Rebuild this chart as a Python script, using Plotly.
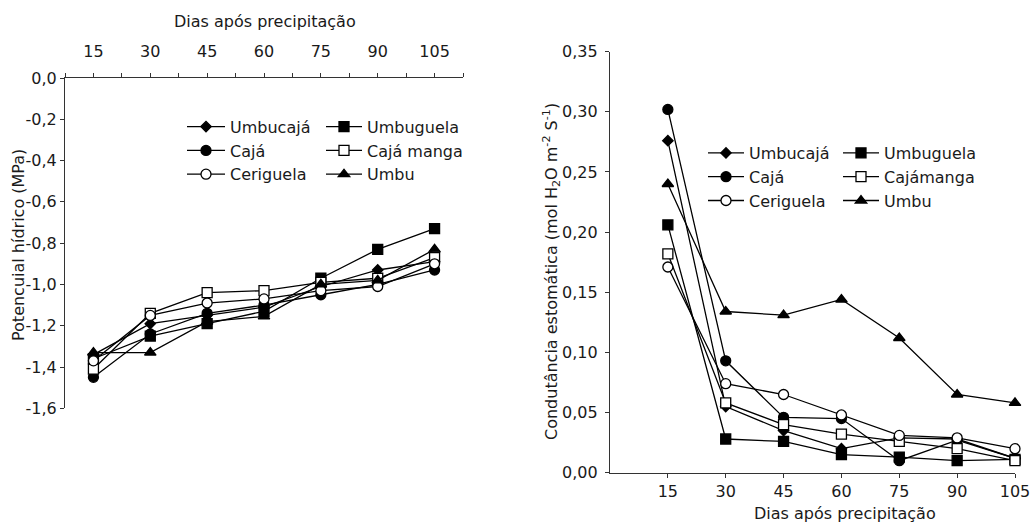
import plotly.graph_objects as go

# ---------------- data ----------------
days = [15, 30, 45, 60, 75, 90, 105]

# Left chart: Potencial hídrico (MPa)
pot_umbucaja = [-1.34, -1.19, -1.15, -1.11, -1.01, -0.93, -0.89]
pot_umbuguela = [-1.36, -1.25, -1.19, -1.13, -0.97, -0.83, -0.73]
pot_caja = [-1.45, -1.24, -1.14, -1.10, -1.05, -1.00, -0.93]
pot_cajamanga = [-1.41, -1.14, -1.04, -1.03, -0.99, -0.97, -0.87]
pot_ceriguela = [-1.37, -1.15, -1.09, -1.07, -1.03, -1.01, -0.90]
pot_umbu = [-1.33, -1.33, -1.18, -1.155, -1.00, -0.98, -0.83]

# Right chart: Condutância estomática (mol H2O m-2 s-1)
cond_umbucaja = [0.276, 0.055, 0.035, 0.020, 0.029, 0.028, 0.012]
cond_umbuguela = [0.206, 0.028, 0.026, 0.015, 0.013, 0.010, 0.011]
cond_caja = [0.302, 0.093, 0.046, 0.045, 0.010, 0.027, 0.012]
cond_cajamanga = [0.182, 0.058, 0.040, 0.032, 0.026, 0.020, 0.010]
cond_ceriguela = [0.171, 0.074, 0.065, 0.048, 0.031, 0.029, 0.020]
cond_umbu = [0.240, 0.134, 0.131, 0.144, 0.112, 0.065, 0.058]

left_names = ["Umbucajá", "Umbuguela", "Cajá", "Cajá manga", "Ceriguela", "Umbu"]
right_names = ["Umbucajá", "Umbuguela", "Cajá", "Cajámanga", "Ceriguela", "Umbu"]

# tick labels
left_xtick_vals = [15, 30, 45, 60, 75, 90, 105]
left_xtick_text = ["15", "30", "45", "60", "75", "90", "105"]
left_xminor_vals = [7.5, 22.5, 37.5, 52.5, 67.5, 82.5, 97.5, 112.5]
left_ytick_vals = [0, -0.2, -0.4, -0.6, -0.8, -1.0, -1.2, -1.4, -1.6]
left_ytick_text = ["0,0", "-0,2", "-0,4", "-0,6", "-0,8", "-1,0", "-1,2", "-1,4", "-1,6"]
right_xtick_vals = [15, 30, 45, 60, 75, 90, 105]
right_xtick_text = ["15", "30", "45", "60", "75", "90", "105"]
right_ytick_vals = [0, 0.05, 0.10, 0.15, 0.20, 0.25, 0.30, 0.35]
right_ytick_text = ["0,00", "0,05", "0,10", "0,15", "0,20", "0,25", "0,30", "0,35"]

# ---------------- styles ----------------
W, H = 1036, 529
FONT = "DejaVu Sans"
FS = 16
INK = "#1a1a1a"
AX = "#333333"

styles = [
    dict(symbol="diamond", size=8, color="black"),
    dict(symbol="square", size=10, color="black"),
    dict(symbol="circle", size=10, color="black"),
    dict(symbol="square", size=10, color="white"),
    dict(symbol="circle", size=10, color="white"),
    dict(symbol="triangle-up", size=10, color="black"),
]
left_legends = ["legend", "legend2", "legend", "legend2", "legend", "legend2"]
right_legends = ["legend3", "legend4", "legend3", "legend4", "legend3", "legend4"]

left_values = [pot_umbucaja, pot_umbuguela, pot_caja, pot_cajamanga, pot_ceriguela, pot_umbu]
right_values = [cond_umbucaja, cond_umbuguela, cond_caja, cond_cajamanga, cond_ceriguela, cond_umbu]

fig = go.Figure()

for name, vals, st, lg in zip(left_names, left_values, styles, left_legends):
    fig.add_trace(go.Scatter(
        x=days, y=vals, name=name, mode="lines+markers",
        xaxis="x", yaxis="y", legend=lg,
        line=dict(color="black", width=1.3),
        marker=dict(symbol=st["symbol"], size=st["size"], color=st["color"],
                    line=dict(color="black", width=1.3)),
        cliponaxis=False,
    ))

for name, vals, st, lg in zip(right_names, right_values, styles, right_legends):
    fig.add_trace(go.Scatter(
        x=days, y=vals, name=name, mode="lines+markers",
        xaxis="x2", yaxis="y2", legend=lg,
        line=dict(color="black", width=1.3),
        marker=dict(symbol=st["symbol"], size=st["size"], color=st["color"],
                    line=dict(color="black", width=1.3)),
        cliponaxis=False,
    ))


def px_x(p):
    return p / W


def px_y(p):
    return 1 - p / H


axis_common = dict(
    showline=True, linecolor=AX, linewidth=1.2, showgrid=False, zeroline=False,
    ticks="outside", ticklen=4, tickwidth=1.2, tickcolor=AX, automargin=False,
    tickfont=dict(family=FONT, size=FS, color=INK), tickmode="array",
)

legend_common = dict(
    xanchor="left", yanchor="middle", bgcolor="rgba(0,0,0,0)", borderwidth=0,
    font=dict(family=FONT, size=FS, color=INK), orientation="v", tracegroupgap=0,
)

fig.update_layout(
    width=W, height=H,
    margin=dict(l=0, r=0, t=0, b=0, pad=0, autoexpand=False),
    paper_bgcolor="white", plot_bgcolor="white",
    font=dict(family=FONT, size=FS, color=INK),
    xaxis=dict(axis_common, domain=[px_x(65), px_x(463)], anchor="y", side="top",
               range=[7.5, 112.5], tickvals=left_xtick_vals, ticktext=left_xtick_text,
               ticklabelstandoff=10,
               minor=dict(tickmode="array", tickvals=left_xminor_vals, ticks="outside",
                          ticklen=4, tickwidth=1.2, tickcolor=AX, showgrid=False)),
    yaxis=dict(axis_common, domain=[px_y(408.3), px_y(78)], anchor="x",
               range=[-1.6, 0], tickvals=left_ytick_vals, ticktext=left_ytick_text),
    xaxis2=dict(axis_common, domain=[px_x(610), px_x(1015)], anchor="y2",
                range=[0, 105], tickvals=right_xtick_vals, ticktext=right_xtick_text,
                ticklabelstandoff=0),
    yaxis2=dict(axis_common, domain=[px_y(472.7), px_y(51.7)], anchor="x2",
                range=[0, 0.35], tickvals=right_ytick_vals, ticktext=right_ytick_text,
                ticklabelstandoff=4),
    legend=dict(legend_common, x=px_x(182), y=px_y(150.7), itemwidth=38),
    legend2=dict(legend_common, x=px_x(321), y=px_y(150.7), itemwidth=36),
    legend3=dict(legend_common, x=px_x(703), y=px_y(177), itemwidth=36),
    legend4=dict(legend_common, x=px_x(838), y=px_y(177), itemwidth=36),
    annotations=[
        dict(text="Dias após precipitação", x=px_x(265), y=px_y(22), xref="paper", yref="paper",
             showarrow=False, xanchor="center", yanchor="middle",
             font=dict(family=FONT, size=FS, color=INK)),
        dict(text="Potencuial hídrico (MPa)", x=px_x(18), y=px_y(245), xref="paper", yref="paper",
             showarrow=False, xanchor="center", yanchor="middle", textangle=-90,
             font=dict(family=FONT, size=FS, color=INK)),
        dict(text="Dias após precipitação", x=px_x(845), y=px_y(513), xref="paper", yref="paper",
             showarrow=False, xanchor="center", yanchor="middle",
             font=dict(family=FONT, size=FS, color=INK)),
        dict(text="Condutância estomática (mol H<sub>2</sub>O m<sup>-2</sup> S<sup>-1</sup>)",
             x=px_x(551), y=px_y(272), xref="paper", yref="paper",
             showarrow=False, xanchor="center", yanchor="middle", textangle=-90,
             font=dict(family=FONT, size=FS, color=INK)),
    ],
)

fig.write_html("out.html", config={"displayModeBar": False},
               post_script="document.body.style.margin='0';")
